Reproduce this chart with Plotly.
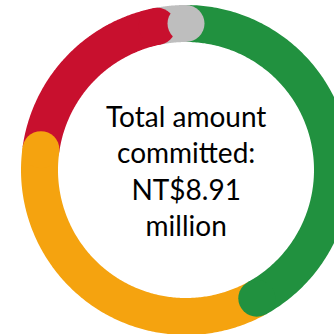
import numpy as np
import plotly.graph_objects as go

# amounts committed, NT$ million (clockwise from 12 o'clock)
labels = ['Green', 'Orange', 'Red', 'Grey']
values = [3.74, 3.14, 1.75, 0.28]
colors = ['#21913F', '#F5A30F', '#C8102E', '#BEBEBE']
center_text = 'Total amount<br>committed:<br>NT$8.91<br>million'

# ring geometry in pixels
cx, cy = 186, 170
r_mid = 146.5
ring_w = 37

total = sum(values)
ends = np.cumsum(values) / total * 360
starts = np.concatenate([[0], ends[:-1]])

def arc_xy(a0, a1):
    t = np.radians(np.linspace(a0, a1, 200))
    return cx + r_mid * np.sin(t), cy - r_mid * np.cos(t)

fig = go.Figure()

# arcs with flat ends
for lab, a0, a1, col in zip(labels, starts, ends, colors):
    x, y = arc_xy(a0, a1)
    fig.add_trace(go.Scatter(x=x, y=y, mode='lines', name=lab,
                             line=dict(color=col, width=ring_w, simplify=False),
                             hoverinfo='skip'))

# rounded end caps, drawn on top
for lab, a1, col in zip(labels, ends, colors):
    t = np.radians(a1)
    fig.add_trace(go.Scatter(x=[cx + r_mid * np.sin(t)], y=[cy - r_mid * np.cos(t)],
                             mode='markers', name=lab,
                             marker=dict(color=col, size=ring_w, line=dict(width=0)),
                             hoverinfo='skip'))

fig.add_annotation(x=cx, y=cy, text=center_text, showarrow=False,
                   font=dict(family='Lato', size=28, color='black'))

fig.update_layout(width=334, height=334, autosize=False,
                  margin=dict(l=0, r=0, t=0, b=0),
                  showlegend=False,
                  paper_bgcolor='white', plot_bgcolor='white',
                  xaxis=dict(range=[0, 334], visible=False, fixedrange=True),
                  yaxis=dict(range=[334, 0], visible=False, fixedrange=True))

# drop the default page margin so the 334px figure fills the window
fig.write_html("out.html", config={'displayModeBar': False},
               post_script="document.body.style.margin='0';"
                           "document.body.style.overflow='hidden';")
